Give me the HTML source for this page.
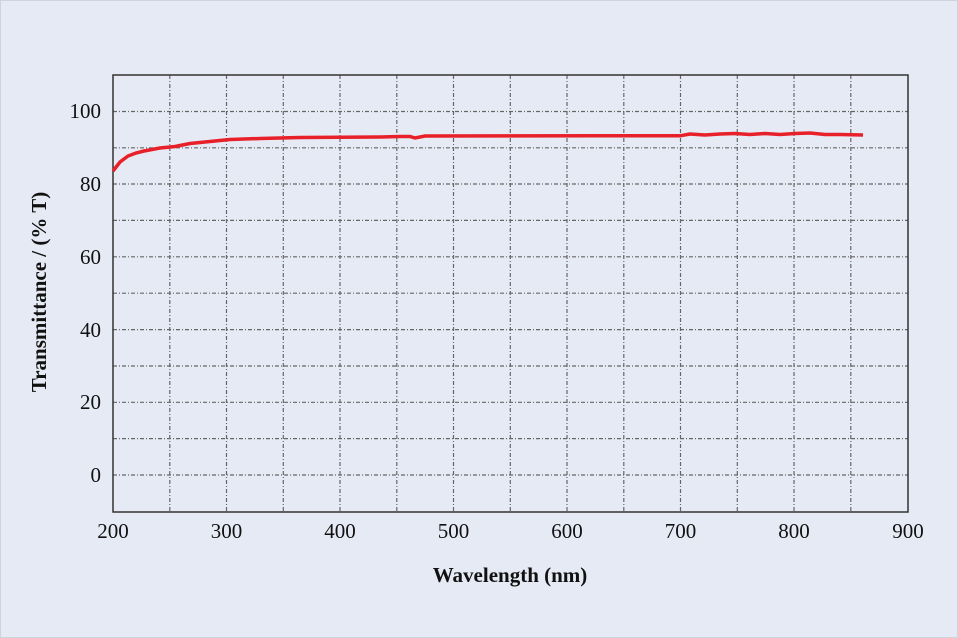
<!DOCTYPE html>
<html><head><style>
body{margin:0;background:#e6eaf4;}
svg{display:block}
text{font-family:"Liberation Serif",serif;fill:#111}
</style></head><body>
<svg width="958" height="638" viewBox="0 0 958 638">
<rect x="0" y="0" width="958" height="638" fill="#e6eaf4"/>
<rect x="0.5" y="0.5" width="957" height="637" fill="none" stroke="#cfd3dc" stroke-width="1"/>
<g stroke="#666" stroke-width="1.2" stroke-dasharray="4,2,1,2" fill="none">
<line x1="113" x2="908" y1="438.6" y2="438.6"/><line x1="113" x2="908" y1="402.3" y2="402.3"/>
<line x1="113" x2="908" y1="366" y2="366"/><line x1="113" x2="908" y1="329.6" y2="329.6"/>
<line x1="113" x2="908" y1="293.2" y2="293.2"/><line x1="113" x2="908" y1="256.8" y2="256.8"/>
<line x1="113" x2="908" y1="220.4" y2="220.4"/><line x1="113" x2="908" y1="184" y2="184"/>
<line x1="113" x2="908" y1="147.8" y2="147.8"/><line x1="113" x2="908" y1="111.5" y2="111.5"/>
<line x1="113" x2="908" y1="475" y2="475"/>
<line y1="75" y2="512" x1="169.8" x2="169.8"/><line y1="75" y2="512" x1="226.5" x2="226.5"/>
<line y1="75" y2="512" x1="283.3" x2="283.3"/><line y1="75" y2="512" x1="340" x2="340"/>
<line y1="75" y2="512" x1="396.8" x2="396.8"/><line y1="75" y2="512" x1="453.5" x2="453.5"/>
<line y1="75" y2="512" x1="510.3" x2="510.3"/><line y1="75" y2="512" x1="567" x2="567"/>
<line y1="75" y2="512" x1="623.8" x2="623.8"/><line y1="75" y2="512" x1="680.5" x2="680.5"/>
<line y1="75" y2="512" x1="737.3" x2="737.3"/><line y1="75" y2="512" x1="794" x2="794"/>
<line y1="75" y2="512" x1="850.8" x2="850.8"/>
</g>
<rect x="113" y="75" width="795" height="437" fill="none" stroke="#333" stroke-width="1.5"/>
<polyline fill="none" stroke="#e8202a" stroke-width="3.5" points="113,171 120,162 128,156 136,153 144,151 152,149.5 160,148 175,146.5 190,143.5 215,141 230,139.5 260,138.5 300,137.5 380,137 400,136.5 410,136.5 415,138 425,136 600,135.8 680,135.8 690,134 705,135 720,134 735,133.5 750,134.5 765,133.5 780,134.5 795,133.5 810,133 825,134.5 840,134.5 863,135"/>
<g font-size="21" text-anchor="end">
<text x="101" y="118">100</text><text x="101" y="191">80</text><text x="101" y="264">60</text>
<text x="101" y="337">40</text><text x="101" y="409">20</text><text x="101" y="482">0</text>
</g>
<g font-size="21" text-anchor="middle">
<text x="113" y="538">200</text><text x="226.5" y="538">300</text><text x="340" y="538">400</text>
<text x="453.5" y="538">500</text><text x="567" y="538">600</text><text x="680.5" y="538">700</text>
<text x="794" y="538">800</text><text x="908" y="538">900</text>
<text x="510" y="582" font-weight="bold" font-size="21">Wavelength (nm)</text>
<text transform="translate(46,292) rotate(-90)" font-weight="bold" font-size="21">Transmittance / (% T)</text>
</g>
</svg>
</body></html>
